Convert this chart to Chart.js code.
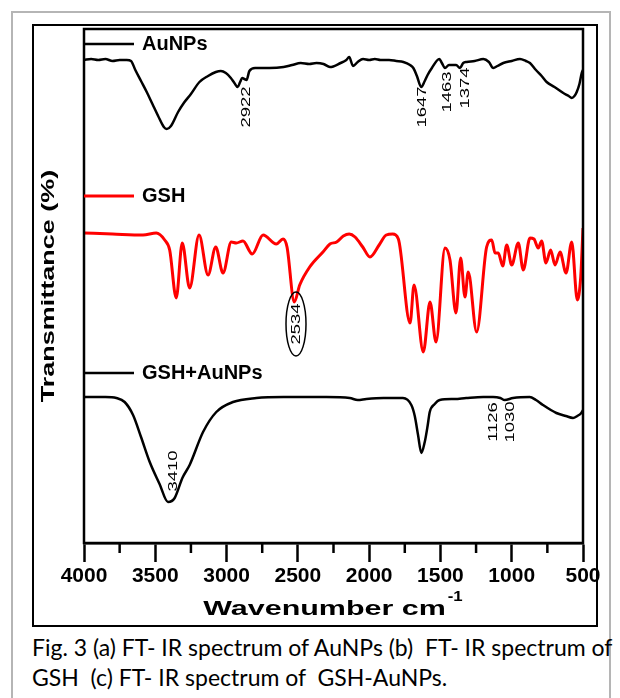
<!DOCTYPE html>
<html lang="en">
<head>
<meta charset="UTF-8">
<title>FT-IR spectra</title>
<script src="https://cdn.jsdelivr.net/npm/chart.js"></script>
<style>
  body { margin: 0; background: #fff; width: 620px; height: 698px; overflow: hidden; position: relative; }
  #frame { position: absolute; left: 11px; top: 11px; width: 600px; height: 700px; border: 2px solid #b5b5b5; box-sizing: border-box; }
  #box { position: absolute; left: 32px; top: 24px; width: 566px; height: 603px; border: 2px solid #000; box-sizing: border-box; }
  #plot { position: absolute; left: 0; top: 0; }
  #caption { position: absolute; left: 32px; top: 632px; font: 23px Lato, "Open Sans", sans-serif; line-height: 30px; color: #000; white-space: pre; }
</style>
</head>
<body>
<div id="frame"></div>
<div id="box"></div>
<canvas id="plot" width="620" height="632"></canvas>
<div id="caption">Fig. 3 (a) FT- IR spectrum of AuNPs (b)  FT- IR spectrum of
GSH  (c) FT- IR spectrum of  GSH-AuNPs.</div>

<script>
// wavenumber (cm-1) and offset transmittance
const auWn = [4000, 3950, 3900, 3850, 3800, 3750, 3700, 3670, 3640, 3600,
              3560, 3520, 3480, 3440, 3420, 3390, 3340, 3300, 3250, 3190,
              3130, 3075, 3040, 3005, 2970, 2945, 2922, 2905, 2890, 2875,
              2860, 2840, 2800, 2700, 2600, 2540, 2480, 2420, 2370, 2320,
              2275, 2200, 2160, 2140, 2113, 2080, 2043, 2000, 1960, 1920,
              1860, 1810, 1760, 1713, 1690, 1665, 1635, 1610, 1590, 1560,
              1508, 1490, 1468, 1440, 1410, 1390, 1363, 1340, 1316, 1260,
              1199, 1160, 1129, 1100, 1059, 1000, 942, 900, 872, 830,
              790, 755, 700, 638, 600, 579, 560, 544, 525, 509, 500];
const auT  = [483, 484, 483, 484, 482, 483, 483, 482, 473, 462,
              451, 439, 427, 416, 414, 417, 431, 440, 449, 461,
              467, 471, 472, 470, 465, 460, 456, 461, 465, 464,
              463, 472, 475, 475, 476, 478, 480, 479, 480, 479,
              476, 480, 483, 486, 477, 481, 484, 483, 484, 483,
              483, 482, 481, 478, 475, 467, 456, 462, 468, 475,
              484, 480, 475, 478, 478, 478, 475, 480, 481, 482,
              484, 481, 475, 477, 480, 482, 484, 482, 480, 473,
              467, 461, 456, 450, 447, 445, 447, 451, 459, 470, 473];

const gshWn = [4000, 3800, 3586, 3493, 3434, 3399, 3353, 3311, 3259, 3193,
               3130, 3076, 3025, 2967, 2932, 2885, 2820, 2744, 2651, 2604,
               2576, 2525, 2487, 2417, 2324, 2275, 2228, 2181, 2140, 2099,
               2045, 1994, 1930, 1880, 1835, 1795, 1713, 1685, 1620, 1573,
               1531, 1468, 1433, 1391, 1358, 1328, 1305, 1246, 1176, 1140,
               1117, 1094, 1063, 1035, 1000, 954, 919, 872, 844, 814,
               790, 760, 727, 696, 661, 619, 579, 540, 516, 500];
const gshT  = [310, 309, 308, 310, 303, 293, 245, 300, 255, 308,
               268, 296, 270, 301, 300, 302, 289, 308, 299, 304,
               296, 241, 258, 276, 291, 299, 301, 307, 309, 306,
               296, 286, 298, 308, 309, 304, 220, 258, 191, 241,
               201, 295, 283, 230, 285, 246, 271, 211, 296, 303,
               290, 290, 277, 298, 278, 300, 273, 305, 304, 295,
               302, 280, 293, 278, 291, 270, 301, 243, 266, 315];

const mixWn = [4000, 3850, 3773, 3715, 3656, 3600, 3539, 3470, 3411, 3364,
               3310, 3259, 3165, 3072, 2955, 2791, 2600, 2487, 2300, 2136,
               2080, 2020, 1900, 1763, 1704, 1680, 1657, 1634, 1610, 1590,
               1575, 1540, 1505, 1400, 1319, 1200, 1131, 1080, 1049, 991,
               874, 830, 781, 687, 620, 570, 540, 512, 500];
const mixT  = [146, 146, 145, 141, 128, 106, 81, 59, 41, 45,
               65, 78, 111, 131, 141, 145, 146, 146, 146, 145,
               143, 144, 145, 145, 138, 127, 108, 90, 101, 117,
               131, 139, 143, 144, 145, 146, 146, 145, 143, 145,
               146, 143, 138, 130, 127, 125, 127, 130, 133];

const seriesNames = ['AuNPs', 'GSH', 'GSH+AuNPs'];
const xTicks = [4000, 3500, 3000, 2500, 2000, 1500, 1000, 500];
const minorTicks = [3750, 3250, 2750, 2250, 1750, 1250, 750];
const peakLabels = ['2922', '1647', '1463', '1374', '2534', '3410', '1126', '1030'];

// label placement (wavenumber of text centre, level of text centre)
const peakAtWn = [2864, 1629, 1454, 1328, 2513, 3376, 1126, 1012];
const peakAtT  = [436, 436, 451, 455, 219, 72, 121, 121];
const legendAtT = [499, 347, 170];
const seriesColors = ['#000', '#ff0000', '#000'];

function pts(xs, ys) { return xs.map((x, i) => ({ x: x, y: ys[i] })); }

function stretched(ctx, text, x, y, font, angle, sx, align) {
  ctx.save();
  ctx.translate(x, y);
  ctx.rotate(angle);
  ctx.scale(sx, 1);
  ctx.font = font;
  ctx.fillStyle = '#000';
  ctx.textAlign = align || 'center';
  ctx.textBaseline = 'middle';
  ctx.fillText(text, 0, 0);
  ctx.restore();
}

const decor = {
  id: 'decor',
  afterDraw(chart) {
    const ctx = chart.ctx, a = chart.chartArea;
    const xs = chart.scales.x, ys = chart.scales.y;
    ctx.save();
    // frame
    ctx.strokeStyle = '#000';
    ctx.lineWidth = 2.5;
    ctx.strokeRect(a.left, a.top, a.right - a.left, a.bottom - a.top);
    // minor ticks
    minorTicks.forEach(v => {
      const px = xs.getPixelForValue(v);
      ctx.beginPath();
      ctx.moveTo(px, a.bottom);
      ctx.lineTo(px, a.bottom + 10);
      ctx.stroke();
    });
    // in-plot legend
    seriesNames.forEach((name, i) => {
      const py = ys.getPixelForValue(legendAtT[i]);
      ctx.strokeStyle = seriesColors[i];
      ctx.lineWidth = i === 1 ? 3 : 2.5;
      ctx.beginPath();
      ctx.moveTo(a.left, py);
      ctx.lineTo(a.left + 50, py);
      ctx.stroke();
      stretched(ctx, name, a.left + 58, py, 'bold 20px "Liberation Sans", Arial, sans-serif', 0, 1, 'left');
    });
    // peak labels
    peakLabels.forEach((t, i) => {
      const px = xs.getPixelForValue(peakAtWn[i]);
      const py = ys.getPixelForValue(peakAtT[i]);
      stretched(ctx, t, px, py, '13px "Liberation Sans", Arial, sans-serif', -Math.PI / 2, 1.42);
      if (t === '2534') {
        ctx.strokeStyle = '#000';
        ctx.lineWidth = 1.5;
        ctx.beginPath();
        ctx.ellipse(px, py, 10, 32, 0, 0, Math.PI * 2);
        ctx.stroke();
      }
    });
    // axis titles
    stretched(ctx, 'Transmittance (%)', 49, (a.top + a.bottom) / 2, 'bold 18px "Liberation Sans", Arial, sans-serif', -Math.PI / 2, 1.5);
    ctx.font = 'bold 21px "Liberation Sans", Arial, sans-serif';
    const w = ctx.measureText('Wavenumber cm').width * 1.45;
    const x0 = (a.left + a.right) / 2 - (w + 18) / 2;
    stretched(ctx, 'Wavenumber cm', x0, 609, 'bold 21px "Liberation Sans", Arial, sans-serif', 0, 1.45, 'left');
    stretched(ctx, '-1', x0 + w + 2, 597, 'bold 14px "Liberation Sans", Arial, sans-serif', 0, 1.2, 'left');
    ctx.restore();
  }
};

new Chart(document.getElementById('plot'), {
  type: 'line',
  data: {
    datasets: [
      { label: seriesNames[0], data: pts(auWn, auT), borderColor: seriesColors[0], borderWidth: 2.5 },
      { label: seriesNames[1], data: pts(gshWn, gshT), borderColor: seriesColors[1], borderWidth: 3 },
      { label: seriesNames[2], data: pts(mixWn, mixT), borderColor: seriesColors[2], borderWidth: 2.5 }
    ]
  },
  options: {
    responsive: false,
    animation: false,
    elements: { point: { radius: 0 }, line: { cubicInterpolationMode: 'monotone', borderJoinStyle: 'round' } },
    layout: { padding: { left: 84, right: 37, top: 29, bottom: 29 } },
    plugins: { legend: { display: false }, tooltip: { enabled: false } },
    scales: {
      x: {
        type: 'linear',
        reverse: true,
        min: 500,
        max: 4000,
        afterBuildTicks: s => { s.ticks = xTicks.map(v => ({ value: v })); },
        afterFit: s => { s.height = 60; },
        ticks: {
          color: '#000',
          padding: 2,
          maxRotation: 0,
          autoSkip: false,
          callback: v => String(v),
          font: { family: '"Liberation Sans", Arial, sans-serif', size: 21, weight: 'bold' }
        },
        grid: { drawOnChartArea: false, tickLength: 19, tickWidth: 2.5, tickColor: '#000' },
        border: { display: true, color: '#000', width: 2.5 }
      },
      y: { display: false, min: 0, max: 514 }
    }
  },
  plugins: [decor]
});
</script>
</body>
</html>
